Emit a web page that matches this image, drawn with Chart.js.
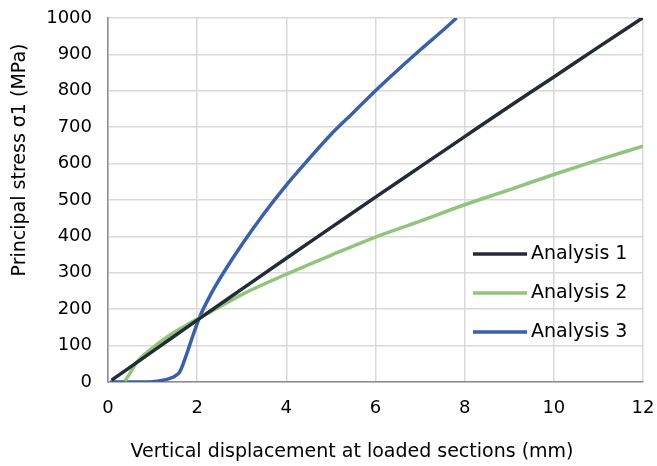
<!DOCTYPE html>
<html>
<head>
<meta charset="utf-8">
<script src="https://cdn.jsdelivr.net/npm/chart.js@4/dist/chart.umd.min.js"></script>
<style>
html,body{margin:0;padding:0;background:#fff;}
#wrap{width:657px;height:466px;}
</style>
</head>
<body>
<div id="wrap"><canvas id="c" width="657" height="466"></canvas></div>
<script>
// Data
const seriesNames = ["Analysis 1", "Analysis 2", "Analysis 3"];
const a1X = [0.08, 1, 2, 3, 4, 5, 6, 7, 8, 9, 10, 11, 12];
const a1Y = [5, 84, 170, 255, 340, 424, 508, 591, 674, 757, 838, 920, 1001];
const a2X = [0.38, 0.5, 0.6, 0.75, 0.94, 1.15, 1.39, 1.7, 2.1, 2.5, 3, 4, 5, 6, 7, 8, 9, 10, 11, 12];
const a2Y = [3, 25, 47, 68, 88, 108, 129, 152, 180, 206, 240, 296, 348, 398, 442, 487, 528, 570, 610, 648];
const a3X = [0.05, 0.5, 1.0, 1.2, 1.39, 1.5, 1.61, 1.68, 1.76, 1.87, 2.06, 2.32, 2.58, 3.0, 3.5, 4.0, 4.5, 5.0, 5.5, 6.0, 6.5, 7.0, 7.5, 7.82];
const a3Y = [0, 0, 1, 4, 10, 16, 28, 48, 75, 115, 180, 244, 298, 377, 463, 541, 612, 680, 740, 800, 857, 912, 965, 1000];
const xTicks = [0, 2, 4, 6, 8, 10, 12];
const yTicks = [0, 100, 200, 300, 400, 500, 600, 700, 800, 900, 1000];
const xTitle = "Vertical displacement at loaded sections (mm)";
const yTitle = "Principal stress σ1 (MPa)";
const colors = ["#232b36", "#93c47d", "#3a61a8"];

const pts = (xs, ys) => xs.map((x, i) => ({x: x, y: ys[i]}));
const FAM = "'DejaVu Sans', 'Liberation Sans', Arial, sans-serif";

const textPlugin = {
  id: 'insideLegendAndTitles',
  afterDraw(chart) {
    const ctx = chart.ctx;
    const rows = [254, 293, 332];
    ctx.save();
    chart.data.datasets.forEach((ds, i) => {
      const y = rows[i];
      ctx.strokeStyle = ds.borderColor;
      ctx.lineWidth = 3.5;
      ctx.beginPath();
      ctx.moveTo(473, y);
      ctx.lineTo(527, y);
      ctx.stroke();
      ctx.fillStyle = "#000";
      ctx.font = "19px " + FAM;
      ctx.textBaseline = "middle";
      ctx.textAlign = "left";
      ctx.fillText(ds.label, 531, y);
    });
    // axis titles
    ctx.fillStyle = "#000";
    ctx.font = "19px " + FAM;
    ctx.textAlign = "center";
    ctx.textBaseline = "middle";
    ctx.fillText(xTitle, 352, 452);
    ctx.translate(20, 160);
    ctx.rotate(-Math.PI / 2);
    ctx.fillText(yTitle, 0, 0);
    ctx.restore();
  }
};

const font = {family: FAM, size: 18};

new Chart(document.getElementById('c'), {
  type: 'line',
  data: {
    datasets: [0, 1, 2].map(i => ({
      label: seriesNames[i],
      data: pts([a1X, a2X, a3X][i], [a1Y, a2Y, a3Y][i]),
      borderColor: colors[i],
      backgroundColor: colors[i],
      borderWidth: 3.5,
      pointRadius: 0,
      cubicInterpolationMode: 'monotone',
      fill: false
    }))
  },
  options: {
    responsive: false,
    animation: false,
    devicePixelRatio: 1,
    layout: {padding: {left: 0, right: 14, top: 18, bottom: 0}},
    plugins: {legend: {display: false}, tooltip: {enabled: false}},
    scales: {
      x: {
        type: 'linear', min: 0, max: 12,
        afterBuildTicks: (s) => { s.ticks = xTicks.map(v => ({value: v})); },
        afterFit: (s) => { s.height = 84; s.paddingLeft = 0; s.paddingRight = 0; },
        grid: {color: "#d9d9d9", lineWidth: 1.5, drawTicks: false},
        border: {color: "#8c8c8c", width: 1.5},
        ticks: {font: font, color: "#000", padding: 16, maxRotation: 0, callback: (v) => String(v)},
        title: {display: false}
      },
      y: {
        type: 'linear', min: 0, max: 1000,
        afterBuildTicks: (s) => { s.ticks = yTicks.map(v => ({value: v})); },
        afterFit: (s) => { s.width = 108; s.paddingTop = 0; s.paddingBottom = 0; },
        grid: {color: "#d9d9d9", lineWidth: 1.5, drawTicks: false},
        border: {color: "#8c8c8c", width: 1.5},
        ticks: {font: font, color: "#000", padding: 16, callback: (v) => String(v)},
        title: {display: false}
      }
    }
  },
  plugins: [textPlugin]
});
</script>
</body>
</html>
